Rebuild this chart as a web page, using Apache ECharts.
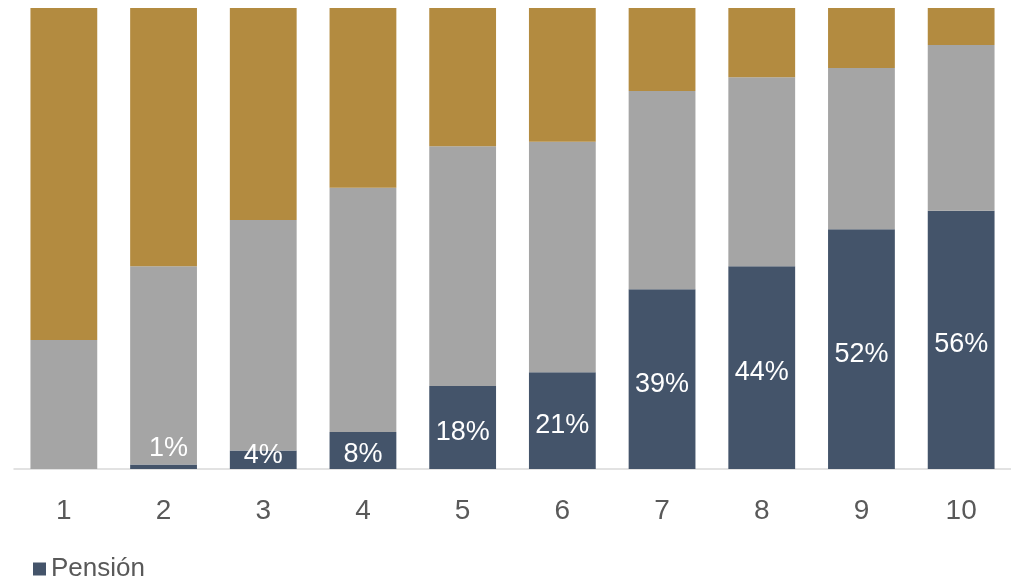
<!DOCTYPE html>
<html>
<head>
<meta charset="utf-8">
<script src="https://cdn.jsdelivr.net/npm/echarts@6/dist/echarts.min.js"></script>
<style>html,body{margin:0;padding:0;background:#fff;}#c{width:1011px;height:583px;}</style>
</head>
<body>
<div id="c"></div>
<script>
const categories = ['1','2','3','4','5','6','7','8','9','10'];
const pensionValues = [0, 1, 4, 8, 18, 21, 39, 44, 52, 56];
const middleValues = [28, 43, 50, 53, 52, 50, 43, 41, 35, 36];
const upperValues = [72, 56, 46, 39, 30, 29, 18, 15, 13, 8];

const chart = echarts.init(document.getElementById('c'));
const pensionData = pensionValues.map((v) => {
  const item = { value: v };
  if (v === 0) item.label = { show: false };
  else if (v <= 2) item.label = { offset: [5, -18] };
  else if (v <= 5) item.label = { offset: [0, -4] };
  else if (v <= 9) item.label = { offset: [0, 4] };
  return item;
});
chart.setOption({
  animation: false,
  textStyle: { fontFamily: 'Liberation Sans, Arial, sans-serif' },
  legend: {
    data: ['Pensión'],
    left: 28, top: 551,
    itemWidth: 13, itemHeight: 13, itemGap: 6,
    icon: 'rect',
    textStyle: { fontSize: 26, color: '#595959', fontFamily: 'Liberation Sans, Arial, sans-serif' }
  },
  grid: { left: 14, top: 8, width: 1000, height: 461, containLabel: false },
  xAxis: {
    type: 'category', data: categories,
    axisLine: { lineStyle: { color: '#D9D9D9', width: 1.5 } },
    axisTick: { show: false },
    axisLabel: { fontSize: 28, color: '#595959', margin: 28 }
  },
  yAxis: { type: 'value', min: 0, max: 100, show: false, splitLine: { show: false } },
  series: [
    {
      name: 'Pensión', type: 'bar', stack: 's', barCategoryGap: '33%',
      itemStyle: { color: '#44546A' },
      label: { show: true, position: 'inside', color: '#fff', fontSize: 27, offset: [0, 5], formatter: p => p.value + '%' },
      data: pensionData
    },
    {
      name: 'Otros', type: 'bar', stack: 's',
      itemStyle: { color: '#A5A5A5' },
      data: middleValues
    },
    {
      name: 'Resto', type: 'bar', stack: 's',
      itemStyle: { color: '#B38B40' },
      data: upperValues
    }
  ]
});
</script>
</body>
</html>
